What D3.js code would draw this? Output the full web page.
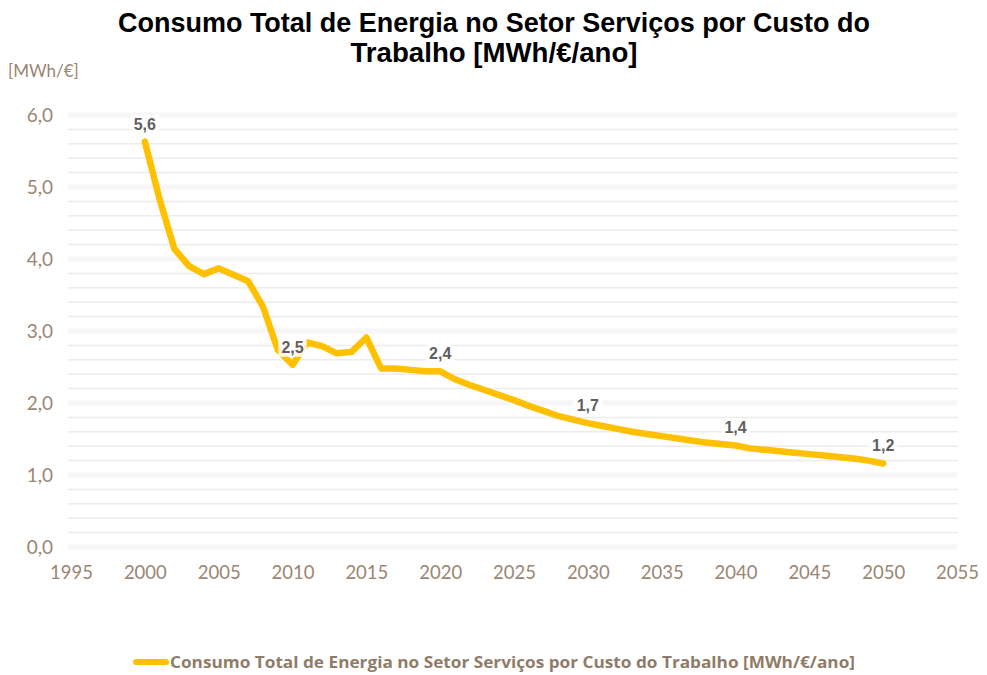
<!DOCTYPE html>
<html>
<head>
<meta charset="utf-8">
<script src="https://cdn.jsdelivr.net/npm/d3@7"></script>
<style>
  html, body { margin: 0; padding: 0; background: #fff; }
  svg { display: block; }
</style>
</head>
<body>
<svg id="chart" width="987" height="675"></svg>
<script>
// Serviços: consumo total de energia por custo do trabalho, 2000–2050
const years = d3.range(2000, 2051);
const values = [
  5.63, 4.83, 4.14, 3.90, 3.79, 3.87, 3.78, 3.69, 3.34, 2.74,
  2.53, 2.84, 2.79, 2.69, 2.71, 2.91, 2.48, 2.48, 2.46, 2.44,
  2.44, 2.33, 2.25, 2.18, 2.11, 2.04, 1.96, 1.89, 1.82, 1.77,
  1.72, 1.68, 1.64, 1.60, 1.57, 1.54, 1.51, 1.48, 1.45, 1.43,
  1.41, 1.37, 1.35, 1.33, 1.31, 1.29, 1.27, 1.25, 1.23, 1.20,
  1.16
];
const labelledYears = [2000, 2010, 2020, 2030, 2040, 2050];
const xTicks = d3.range(1995, 2056, 5);
const yTicks = [0, 1, 2, 3, 4, 5, 6];
const yMinorTicks = d3.range(0.2, 6, 0.2).filter(v => Math.abs(v - Math.round(v)) > 1e-6);

const titleLines = ["Consumo Total de Energia no Setor Serviços por Custo do", "Trabalho [MWh/€/ano]"];
const unitLabel = "[MWh/€]";
const seriesName = "Consumo Total de Energia no Setor Serviços por Custo do Trabalho [MWh/€/ano]";

const data = years.map((y, i) => ({ year: y, value: values[i] }));

const svg = d3.select("#chart");
const axisColor = "#9a8672";
const lineColor = "#FFC000";
const axisFont = "Lato, 'Open Sans', sans-serif";

const x = d3.scaleLinear().domain([1995, 2055]).range([71, 957]);
const y = d3.scaleLinear().domain([0, 6]).range([547, 115]);
const gridX0 = 68, gridX1 = 958;

// Title, slightly condensed
const titleWidths = [752, 287];
svg.append("g").selectAll("text").data(titleLines).join("text")
  .attr("x", 494).attr("y", (d, i) => 32 + i * 30)
  .attr("text-anchor", "middle")
  .attr("font-family", "'Liberation Sans', Arial, sans-serif")
  .attr("font-weight", "bold").attr("font-size", 27)
  .attr("fill", "#000")
  .attr("textLength", (d, i) => titleWidths[i])
  .attr("lengthAdjust", "spacingAndGlyphs")
  .text(d => d);

// Unit label
svg.append("text")
  .attr("x", 8).attr("y", 77)
  .attr("font-family", axisFont).attr("font-size", 17)
  .attr("fill", axisColor)
  .text(unitLabel);

// Gridlines: faint bands at whole units, thin lines in between
const grid = svg.append("g");
grid.selectAll("line.minor").data(yMinorTicks).join("line")
  .attr("class", "minor")
  .attr("x1", gridX0).attr("x2", gridX1)
  .attr("y1", d => y(d)).attr("y2", d => y(d))
  .attr("stroke", "#ececec").attr("stroke-width", 1.5);
grid.selectAll("line.major").data(yTicks).join("line")
  .attr("class", "major")
  .attr("x1", gridX0).attr("x2", gridX1)
  .attr("y1", d => y(d)).attr("y2", d => y(d))
  .attr("stroke", "#f6f6f6").attr("stroke-width", 5);

// Y axis
const yAxis = d3.axisLeft(y).tickValues(yTicks).tickSize(0).tickPadding(0)
  .tickFormat(d => d3.format(".1f")(d).replace(".", ","));
const gy = svg.append("g").attr("transform", "translate(53,0)").call(yAxis);
gy.select(".domain").remove();
gy.selectAll("text")
  .attr("font-family", axisFont).attr("font-size", 19)
  .attr("fill", axisColor);

// X axis
const xAxis = d3.axisBottom(x).tickValues(xTicks).tickSize(0).tickPadding(0)
  .tickFormat(d3.format("d"));
const gx = svg.append("g").attr("transform", "translate(0,566)").call(xAxis);
gx.select(".domain").remove();
gx.selectAll("text")
  .attr("font-family", axisFont).attr("font-size", 18.5)
  .attr("fill", axisColor);

// Series line
const line = d3.line().x(d => x(d.year)).y(d => y(d.value));
svg.append("path")
  .datum(data)
  .attr("d", line)
  .attr("fill", "none")
  .attr("stroke", lineColor)
  .attr("stroke-width", 6.5)
  .attr("stroke-linejoin", "round")
  .attr("stroke-linecap", "round");

// Value labels
const fmt = v => d3.format(".1f")(v).replace(".", ",");
const labels = svg.append("g").selectAll("g")
  .data(data.filter(d => labelledYears.includes(d.year)))
  .join("g")
  .attr("transform", d => `translate(${x(d.year)},${y(d.value) - 12})`);
labels.append("text")
  .attr("text-anchor", "middle")
  .attr("font-family", "'Liberation Sans', Arial, sans-serif")
  .attr("font-weight", "bold").attr("font-size", 16)
  .attr("fill", "#5f5f5f")
  .text(d => fmt(d.value));
labels.each(function () {
  const g = d3.select(this);
  const bb = g.select("text").node().getBBox();
  g.insert("rect", "text")
    .attr("x", bb.x - 3).attr("y", bb.y - 1)
    .attr("width", bb.width + 6).attr("height", bb.height + 2)
    .attr("fill", "#fff").attr("fill-opacity", 0.85);
});

// Legend
const legend = svg.append("g").attr("transform", "translate(0,662)");
legend.append("line")
  .attr("x1", 136).attr("x2", 166).attr("y1", 0).attr("y2", 0)
  .attr("stroke", lineColor).attr("stroke-width", 6)
  .attr("stroke-linecap", "round");
const legendText = legend.append("text")
  .attr("x", 170).attr("y", 6)
  .attr("font-family", "'Open Sans', Lato, sans-serif").attr("font-weight", "bold").attr("font-size", 15.5)
  .attr("fill", "#8f7c68")
  .text(seriesName);
const targetWidth = 685;
const w = legendText.node().getComputedTextLength();
if (Math.abs(w - targetWidth) > 2) {
  legendText.attr("textLength", targetWidth).attr("lengthAdjust", "spacingAndGlyphs");
}
</script>
</body>
</html>
